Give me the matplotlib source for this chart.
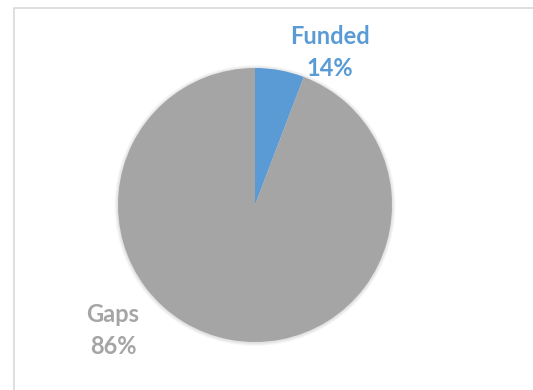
import matplotlib
matplotlib.use("Agg")
import matplotlib.pyplot as plt
from matplotlib.patches import Rectangle, Circle

categories = ["Funded", "Gaps"]
slice_shares = [5.8, 94.2]          # drawn slice sizes as they appear in the picture
label_texts = ["14%", "86%"]        # labels as printed
colors = ["#5B9BD5", "#A5A5A5"]

W, H = 533, 390
fig = plt.figure(figsize=(W / 100, H / 100), dpi=100)
ax = fig.add_axes([0, 0, 1, 1])

cx, cy, r = 255, H - 205, 137

# soft shadow
for i in range(5):
    ax.add_patch(Circle((cx, cy - 0.5), r + 3.5 - 0.7 * i, color="black", alpha=0.025, lw=0, zorder=1))

wedges, _ = ax.pie(slice_shares, colors=colors, startangle=90, counterclock=False,
                   center=(cx, cy), radius=r, frame=True,
                   wedgeprops=dict(linewidth=0, zorder=2))
for w in wedges:
    w.set_zorder(2)

ax.set_xlim(0, W)
ax.set_ylim(0, H)
ax.set_aspect("equal")
ax.axis("off")

# chart frame
ax.add_patch(Rectangle((14, -10), W + 20, H - 8 + 10, fill=False, edgecolor="#D9D9D9", lw=1.2, zorder=0))

font = "Lato"
fs = 17
ax.text(330, H - 36, categories[0], ha="center", va="center", fontsize=fs,
        fontweight="bold", color=colors[0], family=font, zorder=5)
ax.text(330, H - 68, label_texts[0], ha="center", va="center", fontsize=fs,
        fontweight="bold", color=colors[0], family=font, zorder=5)
ax.text(113, H - 315, categories[1], ha="center", va="center", fontsize=fs,
        fontweight="bold", color=colors[1], family=font, zorder=5)
ax.text(113, H - 346, label_texts[1], ha="center", va="center", fontsize=fs,
        fontweight="bold", color=colors[1], family=font, zorder=5)

fig.savefig("out.png", dpi=100)
